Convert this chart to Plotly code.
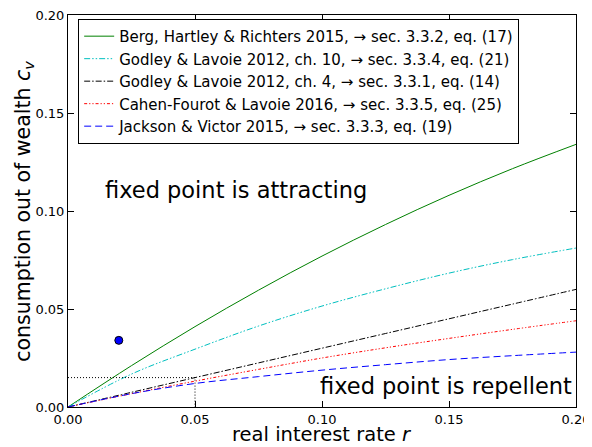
import plotly.graph_objects as go

r_vals = [0.0, 0.025, 0.05, 0.075, 0.1, 0.125, 0.15, 0.175, 0.2]
berg = [0.0, 0.0211, 0.0410, 0.0596, 0.0770, 0.0931, 0.1080, 0.1216, 0.1340]
godley10 = [0.0, 0.0168, 0.0295, 0.0413, 0.0515, 0.0603, 0.0683, 0.0752, 0.0811]
godley4 = [0.0, 0.0075, 0.0150, 0.0225, 0.0300, 0.0375, 0.0450, 0.0525, 0.0600]
cahen = [0.0, 0.0068, 0.0132, 0.0192, 0.0250, 0.0302, 0.0350, 0.0396, 0.0440]
jackson = [0.0, 0.0068, 0.0120, 0.0155, 0.0188, 0.0216, 0.0242, 0.0262, 0.0280]

names = [
    "Berg, Hartley & Richters 2015, \u2192 sec. 3.3.2, eq. (17)",
    "Godley & Lavoie 2012, ch. 10, \u2192 sec. 3.3.4, eq. (21)",
    "Godley & Lavoie 2012, ch. 4, \u2192 sec. 3.3.1, eq. (14)",
    "Cahen-Fourot & Lavoie 2016, \u2192 sec. 3.3.5, eq. (25)",
    "Jackson & Victor 2015, \u2192 sec. 3.3.3, eq. (19)",
]
series = [berg, godley10, godley4, cahen, jackson]
colors = ["#008000", "#00bfbf", "#000000", "#ff0000", "#0000ff"]
dashes = ["solid", "6px,2px,1.5px,2px,1.5px,2px", "6px,2px,1.5px,2px",
          "3px,2px,1.2px,2px,1.2px,2px", "7px,4px"]

tick_vals = [0.0, 0.05, 0.1, 0.15, 0.2]
tick_text = ["0.00", "0.05", "0.10", "0.15", "0.20"]

point_r = [0.02]
point_c = [0.034]
ref_r = 0.05
ref_c = 0.015

fig = go.Figure()
for nm, ys, col, ds in zip(names, series, colors, dashes):
    fig.add_trace(go.Scatter(x=r_vals, y=ys, mode="lines", name=nm,
                             line=dict(color=col, width=1, dash=ds, shape="spline")))

fig.add_trace(go.Scatter(x=point_r, y=point_c, mode="markers", showlegend=False,
                         marker=dict(color="#0000ff", size=8, line=dict(color="black", width=1))))
fig.add_trace(go.Scatter(x=[0, ref_r, ref_r], y=[ref_c, ref_c, 0], mode="lines", showlegend=False,
                         line=dict(color="black", width=1, dash="1px,2px")))

fig.add_annotation(x=0.0138, y=0.1107, text="fixed point is attracting", showarrow=False,
                   xanchor="left", yanchor="middle", font=dict(size=22.5, color="black"))
fig.add_annotation(x=0.0984, y=0.0107, text="fixed point is repellent", showarrow=False,
                   xanchor="left", yanchor="middle", font=dict(size=22.5, color="black"))

# axis titles as annotations for precise placement
fig.add_annotation(xref="paper", yref="paper", x=0.5, y=-0.0714,
                   text="real interest rate <i>r</i>", showarrow=False,
                   xanchor="center", yanchor="middle", font=dict(size=19.5, color="black"))
fig.add_annotation(xref="paper", yref="paper", x=-0.087, y=0.5,
                   text="consumption out of wealth <i>c<sub>v</sub></i>", showarrow=False,
                   textangle=-90, xanchor="center", yanchor="middle", font=dict(size=20.5, color="black"))

axis_common = dict(showgrid=False, zeroline=False, showline=True, linecolor="black", linewidth=1,
                   mirror="ticks", ticks="inside", ticklen=6, tickcolor="black", automargin=False,
                   ticklabeloverflow="allow", tickfont=dict(size=13, color="black"))
fig.update_xaxes(range=[0, 0.2], tickvals=tick_vals, ticktext=tick_text, **axis_common)
fig.update_yaxes(range=[0, 0.2], tickvals=tick_vals, ticktext=tick_text, **axis_common)

# page body has an 8px margin; shrink the figure so the plot area lands where the reference's does
fig.update_layout(
    width=584, height=439,
    margin=dict(l=60, r=16, t=7, b=40),
    plot_bgcolor="white", paper_bgcolor="white",
    font=dict(family="DejaVu Sans", color="black"),
    legend=dict(x=0.02, y=0.99, xanchor="left", yanchor="top",
                bordercolor="black", borderwidth=1, bgcolor="white",
                font=dict(size=15), tracegroupgap=0, itemwidth=30),
)

fig.write_html("out.html")
